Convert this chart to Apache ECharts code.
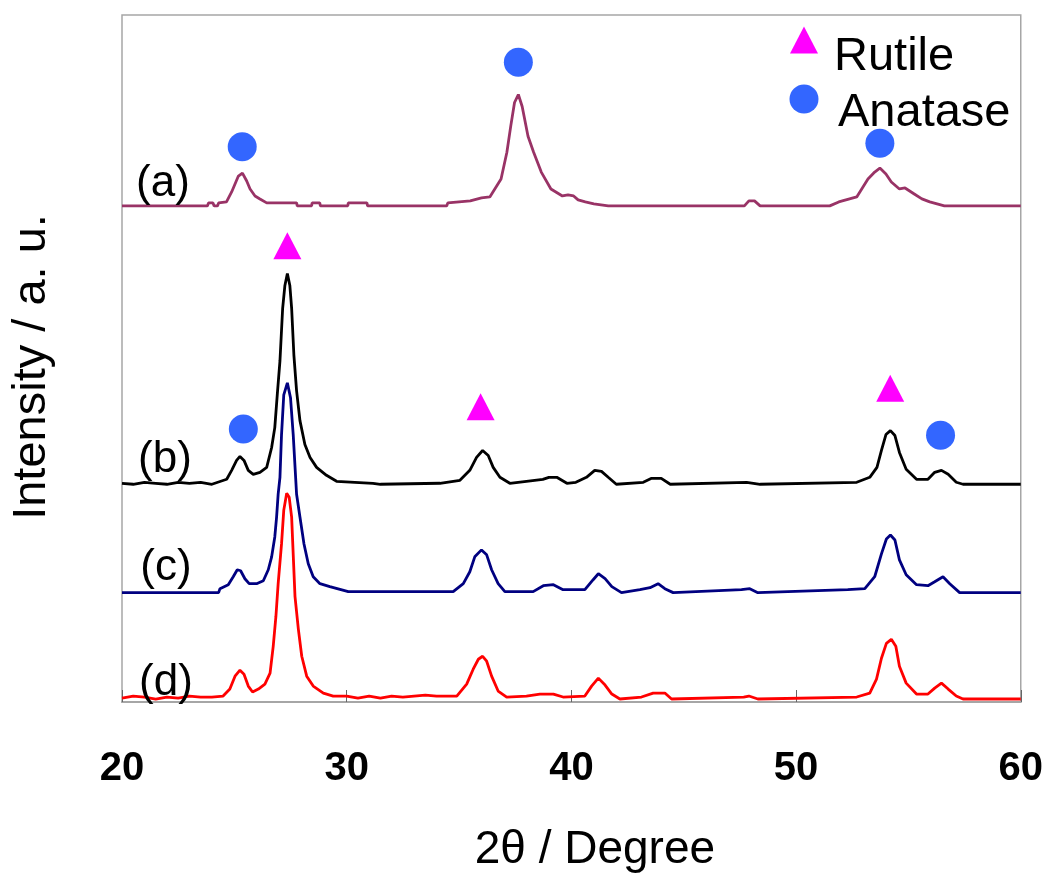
<!DOCTYPE html>
<html>
<head>
<meta charset="utf-8">
<style>html,body{margin:0;padding:0;background:#fff;}#chart{width:1046px;height:878px;}</style>
<script src="https://cdn.jsdelivr.net/npm/echarts@6/dist/echarts.min.js"></script>
</head>
<body>
<div id="chart"></div>
<script>
// 2θ (degree) / intensity above each pattern's own baseline (a.u.)
const patternA = [[20,0],[23.8,0],[23.85,3],[24.05,3],[24.1,0],[24.25,0],[24.3,3],[24.65,4],[24.88,14],[25.03,22],[25.18,30],[25.36,33],[25.55,25],[25.7,17],[25.92,10],[26.14,7],[26.44,3],[27.77,3],[27.8,0],[28.44,0],[28.46,3],[28.8,3],[28.83,0],[30.05,0],[30.07,3],[30.6,3],[30.65,1],[30.75,3],[30.9,3],[30.93,0],[34.45,0],[34.5,3],[35.5,5],[36.0,8],[36.37,9],[36.87,27],[37.13,54],[37.3,80],[37.47,104],[37.64,112],[37.81,100],[38.07,70],[38.32,54],[38.66,34],[39.09,17],[39.6,10],[39.85,11],[40.1,10],[40.3,6],[40.62,4],[41.0,2],[41.64,0],[47.7,0],[47.9,5],[48.15,5],[48.4,0],[51.5,0],[51.9,4],[52.7,9],[53.2,27],[53.5,34],[53.73,38],[54.0,32],[54.24,24],[54.6,17],[54.85,18],[55.26,12],[55.6,7],[55.95,4],[56.6,0],[60,0]];
const patternB = [[20,1],[20.5,0],[21,2],[21.5,1],[22,0],[22.5,2],[23,1],[23.5,2],[24,0],[24.66,5],[24.88,14],[25.1,24],[25.25,28],[25.43,24],[25.62,14],[25.84,10],[26.14,12],[26.44,17],[26.66,37],[26.8,57],[26.91,90],[27.03,124],[27.15,177],[27.25,200],[27.36,212],[27.47,200],[27.55,177],[27.65,130],[27.77,94],[27.92,64],[28.14,40],[28.37,27],[28.66,17],[29.1,9],[29.55,3],[31.17,1],[31.5,0],[34.15,1],[35.04,4],[35.48,14],[35.78,27],[36.05,34],[36.3,29],[36.52,17],[36.82,7],[37.26,1],[38.0,3],[38.73,5],[39.0,7],[39.35,7],[39.8,1],[40.2,2],[40.67,7],[41.04,14],[41.34,13],[41.64,7],[42.0,0],[43.2,2],[43.57,6],[44.0,6],[44.4,0],[47.8,2],[48.4,0],[52.7,2],[53.28,7],[53.6,17],[53.8,34],[54.0,50],[54.2,54],[54.4,49],[54.6,32],[54.9,15],[55.36,5],[55.87,5],[56.17,12],[56.47,14],[56.77,10],[57.13,2],[57.43,0],[60,0]];
const patternC = [[20,0],[24.3,0],[24.36,4],[24.73,8],[24.95,16],[25.13,23],[25.28,22],[25.47,14],[25.66,9],[25.99,9],[26.29,12],[26.51,23],[26.66,36],[26.8,56],[26.88,76],[26.95,99],[27.03,116],[27.1,159],[27.2,199],[27.36,211],[27.5,196],[27.62,159],[27.77,99],[27.92,76],[28.1,49],[28.29,29],[28.51,16],[28.81,9],[29.25,6],[30.07,1],[34.74,1],[35.19,9],[35.48,21],[35.7,36],[36.0,43],[36.23,38],[36.45,23],[36.74,9],[37.04,1],[38.3,1],[38.75,7],[39.2,8],[39.63,3],[40.6,3],[40.97,13],[41.2,19],[41.5,14],[41.8,6],[42.23,0],[43.05,3],[43.5,5],[43.86,9],[44.16,4],[44.53,0],[47.57,3],[47.94,4],[48.3,0],[52.3,3],[53.06,4],[53.5,16],[53.8,39],[54.02,54],[54.2,58],[54.4,53],[54.6,33],[54.9,18],[55.36,8],[55.87,7],[56.17,11],[56.54,16],[56.84,9],[57.28,0],[60,0]];
const patternD = [[20,1],[20.5,3],[21,2],[21.5,0],[22,2],[22.5,1],[23,3],[23.5,2],[24,2],[24.5,3],[24.8,10],[25.03,23],[25.25,29],[25.43,25],[25.62,13],[25.81,7],[26.07,10],[26.36,15],[26.59,26],[26.73,53],[26.85,83],[26.95,116],[27.1,156],[27.2,190],[27.33,207],[27.44,203],[27.55,183],[27.7,103],[27.85,70],[28.0,43],[28.22,23],[28.51,13],[28.96,6],[29.4,3],[30,3],[30.5,1],[31,3],[31.5,1],[32,3],[32.5,2],[33,3],[33.5,4],[34,3],[34.9,3],[35.34,15],[35.63,30],[35.86,40],[36.05,43],[36.23,38],[36.45,23],[36.74,8],[37.12,2],[38.0,3],[38.6,5],[39.2,5],[39.63,2],[40.6,3],[40.9,13],[41.2,21],[41.5,14],[41.8,5],[42.16,0],[43.12,2],[43.64,6],[44.16,6],[44.46,0],[47.67,2],[47.9,3],[48.3,0],[52.7,2],[53.28,6],[53.58,20],[53.8,41],[54.02,56],[54.24,60],[54.44,53],[54.6,33],[54.9,16],[55.36,5],[55.87,5],[56.17,11],[56.47,16],[56.77,10],[57.13,3],[57.43,0],[60,0]];

// vertical offsets of the stacked patterns
const sampleNames = ['(a)', '(b)', '(c)', '(d)'];
const sampleOffsets = [499, 219, 110, 3];

// phase markers [2θ, position]
const rutileMarks = [[27.36, 459], [35.96, 297], [54.19, 315.5]];
const anataseMarks = [[25.35, 558.5], [37.64, 643.5], [53.73, 562], [25.40, 274.5], [56.43, 268.3]];

const xTicks = [20, 30, 40, 50, 60];

const chart = echarts.init(document.getElementById('chart'));
const FONT = '"Liberation Sans", Arial, sans-serif';
const shift = (arr, off) => arr.map(p => [p[0], p[1] + off]);
const lineColors = ['#993366', '#000000', '#000080', '#ff0000'];
const patterns = [patternA, patternB, patternC, patternD];

const lineSeries = patterns.map((p, i) => ({
  name: sampleNames[i],
  type: 'line',
  data: shift(p, sampleOffsets[i]),
  showSymbol: false,
  symbol: 'none',
  lineStyle: { color: lineColors[i], width: 2.8 },
  itemStyle: { color: lineColors[i] },
  z: 2 + i
}));

const labelPos = [[163, 184], [165, 460], [166, 568], [166, 683]];

chart.setOption({
  animation: false,
  backgroundColor: '#ffffff',
  grid: { left: 122, right: 25, top: 15, bottom: 172, show: true, borderColor: '#a6a6a6', borderWidth: 1.5, containLabel: false },
  xAxis: {
    type: 'value', min: xTicks[0], max: xTicks[xTicks.length - 1], interval: 10,
    name: '2θ / Degree', nameLocation: 'middle', nameGap: 125,
    nameTextStyle: { fontFamily: FONT, fontSize: 46, color: '#000', padding: [0, 0, 0, 47] },
    axisLine: { show: true, lineStyle: { color: '#a6a6a6', width: 2 } },
    axisTick: { show: true, inside: true, length: 12, lineStyle: { color: '#666', width: 1 } },
    axisLabel: { fontFamily: FONT, fontSize: 40, fontWeight: 'bold', color: '#000', margin: 47 },
    splitLine: { show: false }
  },
  yAxis: {
    type: 'value', min: 0, max: 691,
    name: 'Intensity / a. u.', nameLocation: 'middle', nameGap: 66,
    nameTextStyle: { fontFamily: FONT, fontSize: 47, color: '#000', padding: [0, 17, 0, 0] },
    axisLine: { show: false }, axisTick: { show: false }, axisLabel: { show: false }, splitLine: { show: false }
  },
  series: lineSeries.concat([
    { name: 'Rutile', type: 'scatter', data: rutileMarks, symbol: 'triangle', symbolSize: [28, 27], itemStyle: { color: '#ff00ff', opacity: 1 }, z: 10 },
    { name: 'Anatase', type: 'scatter', data: anataseMarks, symbol: 'circle', symbolSize: 29, itemStyle: { color: '#3366ff', opacity: 1 }, z: 10 }
  ]),
  graphic: [
    { type: 'polygon', shape: { points: [[804, 26.5], [818, 53.5], [790, 53.5]] }, style: { fill: '#ff00ff' } },
    { type: 'circle', shape: { cx: 804, cy: 99, r: 14.5 }, style: { fill: '#3366ff' } },
    { type: 'text', x: 834, y: 57, style: { text: 'Rutile', font: '47px ' + FONT, fill: '#000', verticalAlign: 'middle' } },
    { type: 'text', x: 838, y: 113, style: { text: 'Anatase', font: '47px ' + FONT, fill: '#000', verticalAlign: 'middle' } }
  ].concat(sampleNames.map((n, i) => ({
    type: 'text', x: labelPos[i][0], y: labelPos[i][1], z: 20,
    style: { text: n, font: '44px ' + FONT, fill: '#000', align: 'center', verticalAlign: 'middle' }
  })))
});
</script>
</body>
</html>
